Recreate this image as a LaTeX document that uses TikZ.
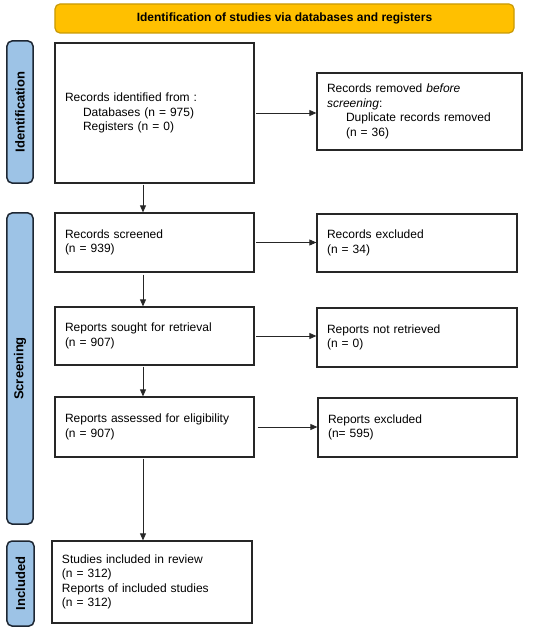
\documentclass[tikz,border=0pt]{standalone}
\usepackage{fontspec}
\setmainfont{Liberation Sans}
\usetikzlibrary{arrows.meta}
\definecolor{gold}{HTML}{FFC000}
\definecolor{goldline}{HTML}{C99A06}
\definecolor{sideblue}{HTML}{9DC3E6}
\definecolor{sideline}{HTML}{1E2733}
\definecolor{boxline}{HTML}{262626}
\tikzset{
  txt/.style={font=\fontsize{12bp}{14.5bp}\selectfont},
  flowbox/.style={draw=boxline, line width=1.3bp, fill=white, txt, align=left,
    inner xsep=10bp, inner ysep=0bp},
  sidebox/.style={draw=sideline, fill=sideblue, line width=1.5bp, rounded corners=5bp,
    rotate=90, inner sep=0bp, font=\fontsize{13bp}{15bp}\selectfont\bfseries},
  banner/.style={draw=goldline, fill=gold, line width=1.2bp, rounded corners=5bp,
    inner sep=0bp, font=\fontsize{12bp}{14bp}\selectfont\bfseries},
  arr/.style={draw=black!85, line width=0.8bp, -{Triangle[length=7bp,width=6bp]}},
}
\begin{document}
\begin{tikzpicture}[x=1bp,y=-1bp]
\useasboundingbox (0,0) rectangle (550,634);
\fill[white] (0,0) rectangle (550,634);

\node[banner, minimum width=459bp, minimum height=29bp] (banner) at (284.5,18.5)
  {Identification of studies via databases and registers};

\node[sidebox, minimum width=142bp, minimum height=26bp] (sideI) at (20,112) {Identification};
\node[sidebox, minimum width=311bp, minimum height=26bp] (sideS) at (20,368.5) {Screening};
\node[sidebox, minimum width=85bp, minimum height=27bp] (sideInc) at (20.5,583.5) {Included};

\node[flowbox, text width=179bp, minimum height=140bp] (id) at (154.5,113)
  {Records identified from :\\
   \hspace*{18bp}Databases (n = 975)\\
   \hspace*{18bp}Registers (n = 0)};
\node[flowbox, text width=185bp, minimum height=77bp] (removed) at (419.5,111.5)
  {Records removed \textit{before}\\
   \textit{screening}:\\
   \hspace*{19bp}Duplicate records removed\\
   \hspace*{19bp}(n = 36)};

\node[flowbox, text width=179bp, minimum height=59bp] (screened) at (154.5,242.5)
  {Records screened\\(n = 939)};
\node[flowbox, text width=180bp, minimum height=58bp] (excluded) at (417,243)
  {Records excluded\\(n = 34)};

\node[flowbox, text width=179bp, minimum height=58bp] (sought) at (154.5,336)
  {Reports sought for retrieval\\(n = 907)};
\node[flowbox, text width=180bp, minimum height=59bp] (notret) at (417,337.5)
  {Reports not retrieved\\(n = 0)};

\node[flowbox, text width=179bp, minimum height=60bp] (assessed) at (154.5,427)
  {Reports assessed for eligibility\\(n = 907)};
\node[flowbox, text width=179bp, minimum height=59bp] (repexcl) at (417.5,427.5)
  {Reports excluded\\(n= 595)};

\node[flowbox, text width=180bp, minimum height=82bp] (included) at (152,582)
  {Studies included in review\\(n = 312)\\Reports of included studies\\(n = 312)};

\coordinate (xline) at (143,0);

\draw[arr, shorten <=1.5bp] (id.east) -- (id.east -| removed.west);
\draw[arr, shorten <=1.5bp] (screened.east) -- (screened.east -| excluded.west);
\draw[arr, shorten <=1.5bp] (sought.east) -- (sought.east -| notret.west);
\draw[arr, shorten <=3bp] (assessed.east) -- (assessed.east -| repexcl.west);

\draw[arr, shorten <=1bp] (id.south -| xline) -- (screened.north -| xline);
\draw[arr, shorten <=2bp] (screened.south -| xline) -- (sought.north -| xline);
\draw[arr, shorten <=1bp] (sought.south -| xline) -- (assessed.north -| xline);
\draw[arr, shorten <=1bp] (assessed.south -| xline) -- (included.north -| xline);
\end{tikzpicture}
\end{document}
